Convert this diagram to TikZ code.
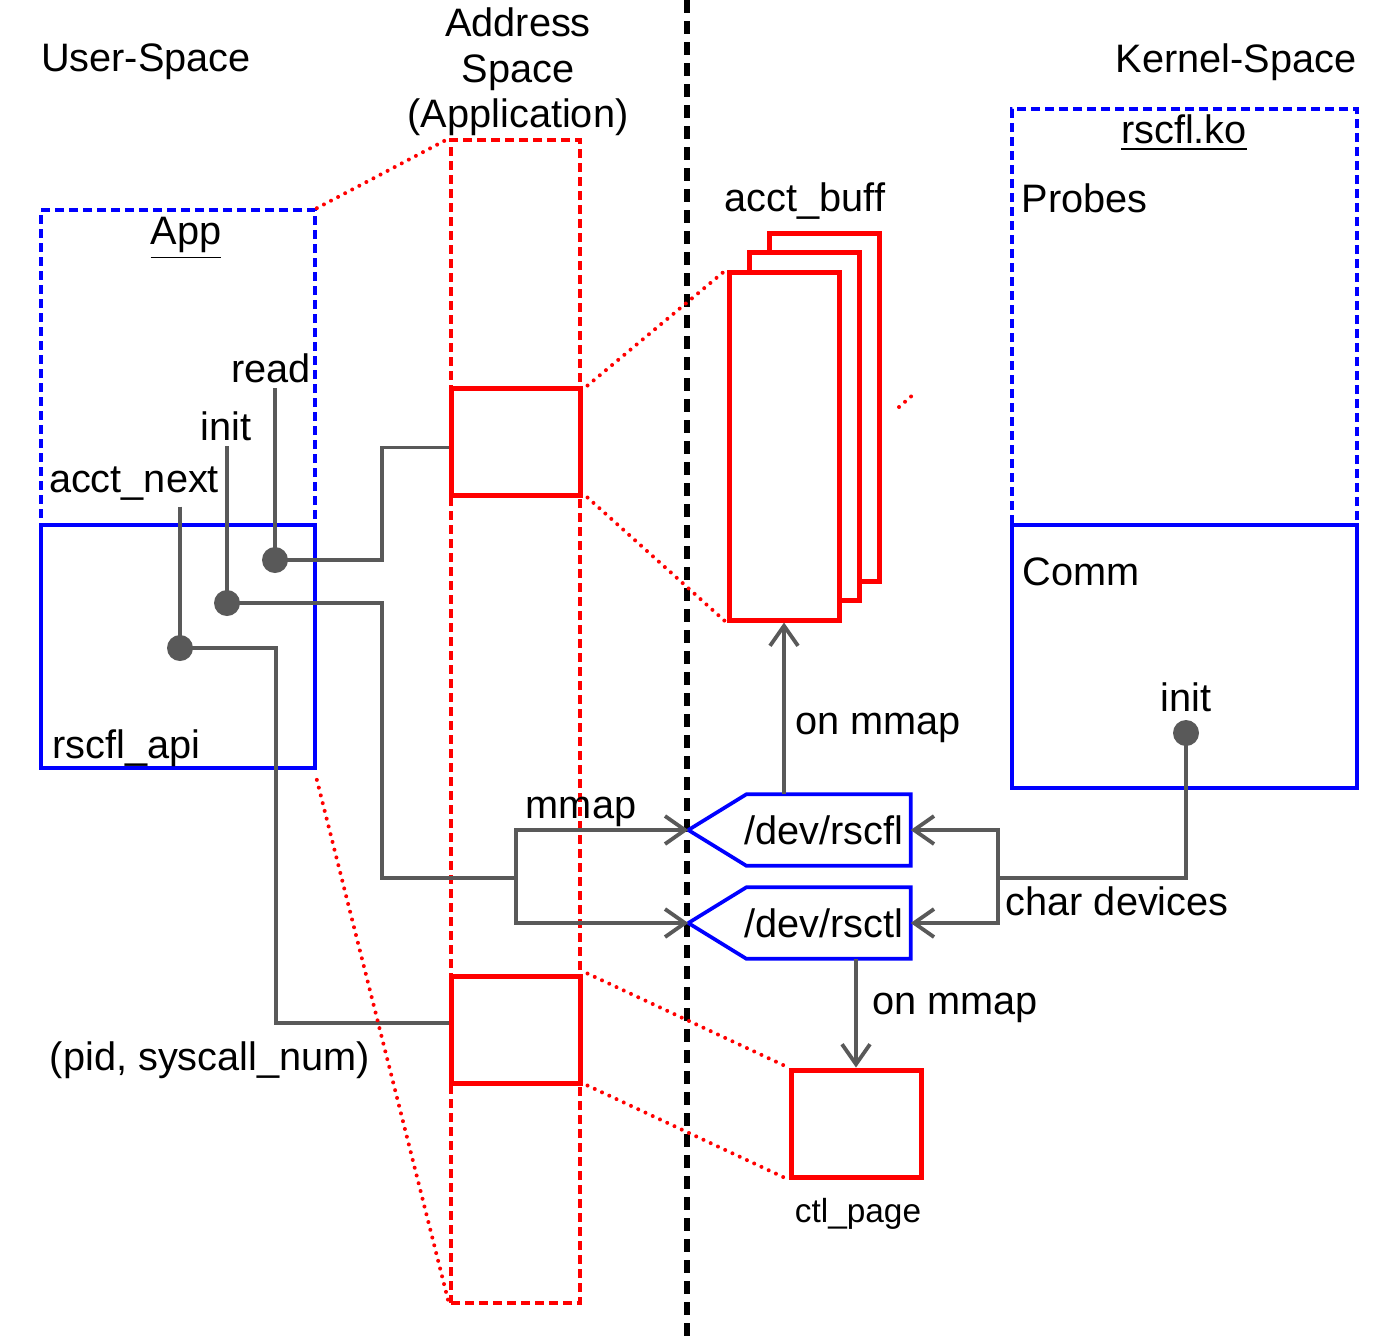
\documentclass[tikz,border=0pt]{standalone}
\usepackage{fontspec}
\setmainfont{Liberation Sans}
\usetikzlibrary{arrows.meta}

\definecolor{linegray}{RGB}{89,89,89}

\begin{document}
\begin{tikzpicture}[x=0.1mm, y=-0.1mm, >={Straight Barb[length=2mm, width=2.8mm]}]
    \tikzstyle{every node}=[inner sep=0pt, font=\fontsize{11.3pt}{12.9pt}\selectfont]
    \tikzstyle{blue_box}=[rectangle, draw=blue, line width=0.37mm]
    \tikzstyle{blue_dashed}=[blue_box, dash pattern=on 0.9mm off 0.5mm]
    \tikzstyle{red_box}=[rectangle, draw=red, line width=0.5mm]
    \tikzstyle{red_dashed}=[rectangle, draw=red, line width=0.35mm, dash pattern=on 0.9mm off 0.5mm]
    \tikzstyle{red_dotted}=[draw=red, line width=0.4mm, line cap=round, dash pattern=on 0pt off 0.8mm]
    \tikzstyle{gray_line}=[draw=linegray, line width=0.38mm]
    \tikzstyle{dot_style}=[circle, fill=linegray, minimum size=2.6mm]
    \tikzstyle{dev_style}=[rectangle, minimum width=16.3mm, minimum height=7mm]

    \useasboundingbox (0, 0) rectangle (1400, 1340);

    % titles
    \node at (146, 62) [] (user_title) {User-Space};
    \node at (518, 72) [align=center] (addr_title) {Address\\Space\\(Application)};
    \node at (1236, 62) [] (kernel_title) {Kernel-Space};

    % user / kernel border
    \draw[black, line width=0.6mm, dash pattern=on 1.3mm off 0.8mm] (687, 0) -- (687, 1340);

    % app
    \node at (178, 367.5) [blue_dashed, minimum width=27.4mm, minimum height=31.5mm] (app) {};
    \node at (178, 646.5) [blue_box, minimum width=27.4mm, minimum height=24.3mm] (api) {};
    \node at (186, 238) [] (app_label) {\underline{App}};
    \node at (52, 748) [anchor=west] (api_label) {rscfl\_api};
    \node at (271, 368) [] (lbl_read) {read};
    \node at (226, 426) [] (lbl_init) {init};
    \node at (134, 484) [] (lbl_next) {acct\_next};
    \node at (210, 1060) [] (lbl_args) {(pid, syscall\_num)};

    % api calls
    \node at (275, 560) [dot_style] (dot_read) {};
    \node at (227, 603) [dot_style] (dot_init) {};
    \node at (180, 648) [dot_style] (dot_next) {};

    % address space
    \node at (515.5, 721.5) [red_dashed, minimum width=12.9mm, minimum height=116.3mm] (addr) {};
    \node at (515.5, 441.5) [red_box, minimum width=12.9mm, minimum height=10.7mm] (up_page) {};
    \node at (515.5, 1029.5) [red_box, minimum width=12.9mm, minimum height=10.7mm] (low_page) {};

    % acct_buff
    \foreach \i in {2,1,0}
      \node at ({784+20*\i}, {446-19.5*\i}) [red_box, fill=white, minimum width=11mm, minimum height=34.8mm] (buff_\i) {};
    \node at (805, 201) [] (buff_label) {acct\_buff};

    % ctl_page
    \node at (856, 1123.5) [red_box, minimum width=13mm, minimum height=10.7mm] (ctl_page) {};
    \node at (858, 1214) [font=\fontsize{9.5pt}{11pt}\selectfont] (ctl_label) {ctl\_page};

    % char devices
    \node at (828.5, 830) [dev_style] (dev_rscfl) {\hspace*{-1mm}/dev/rscfl};
    \node at (828.5, 923) [dev_style] (dev_rsctl) {\hspace*{-1mm}/dev/rsctl};
    \foreach \d in {rscfl, rsctl}
      \draw[blue, line width=0.37mm] (dev_\d.north east) -- (dev_\d.south east) -- (dev_\d.south west)
        -- ([xshift=-5.8mm]dev_\d.west) coordinate (tip_\d) -- (dev_\d.north west) -- cycle;

    % rscfl.ko
    \node at (1184.5, 317) [blue_dashed, minimum width=34.5mm, minimum height=41.6mm] (ko) {};
    \node at (1184.5, 656.5) [blue_box, minimum width=34.5mm, minimum height=26.3mm] (comm) {};
    \node at (1184, 133) [] (ko_label) {\underline{rscfl.ko}};
    \node at (1021, 198) [anchor=west] (probes_label) {Probes};
    \node at (1022, 572) [anchor=west] (comm_label) {Comm};
    \node at (1186, 697) [] (lbl_kinit) {init};
    \node at (1186, 733) [dot_style] (dot_kinit) {};

    % labels on connectors
    \node at (581, 812) [] (lbl_mmap) {mmap};
    \node at (878, 728) [] (lbl_onmmap_1) {on mmap};
    \node at (955, 1008) [] (lbl_onmmap_2) {on mmap};
    \node at (1005, 901) [anchor=west] (lbl_chardev) {char devices};

    % connect: labels -> api calls
    \foreach \c in {read, init, next}
      \draw[gray_line] ([yshift=-0.5mm]lbl_\c.south -| dot_\c.center) -- (dot_\c.center);

    % connect: api calls -> pages / devices
    \draw[gray_line] (dot_read.center) -- (382, 560) |- ([yshift=-0.6mm]up_page.west);
    \draw[gray_line] (dot_init.center) -| (382, 878) -- (516, 878) coordinate (split_user);
    \draw[gray_line, ->] (split_user) |- (tip_rscfl);
    \draw[gray_line, ->] (split_user) |- (tip_rsctl);
    \draw[gray_line] (dot_next.center) -- (276, 648) |- ([yshift=0.65mm]low_page.west);

    % connect: kernel init -> devices
    \draw[gray_line] (dot_kinit.center) |- (998, 878) coordinate (split_kernel);
    \draw[gray_line, ->] (split_kernel) |- (dev_rscfl.east);
    \draw[gray_line, ->] (split_kernel) |- (dev_rsctl.east);

    % connect: devices -> memory
    \draw[gray_line, ->] (buff_0.south |- dev_rscfl.north) -- (buff_0.south);
    \draw[gray_line, ->] (ctl_page.north |- dev_rsctl.south) -- (ctl_page.north);

    % zoom lines
    \draw[red_dotted] (app.north east) -- (addr.north west);
    \draw[red_dotted] ([yshift=-1mm]api.south east) -- (addr.south west);
    \draw[red_dotted] ([xshift=0.5mm]up_page.north east) -- (buff_0.north west);
    \draw[red_dotted] ([xshift=0.5mm]up_page.south east) -- (buff_0.south west);
    \draw[red_dotted] ([xshift=0.5mm]low_page.north east) -- (ctl_page.north west);
    \draw[red_dotted] ([xshift=0.5mm]low_page.south east) -- (ctl_page.south west);
    \draw[red_dotted] (899, 407) coordinate (stray_a) -- (915, 393) coordinate (stray_b);

  \end{tikzpicture}
\end{document}
